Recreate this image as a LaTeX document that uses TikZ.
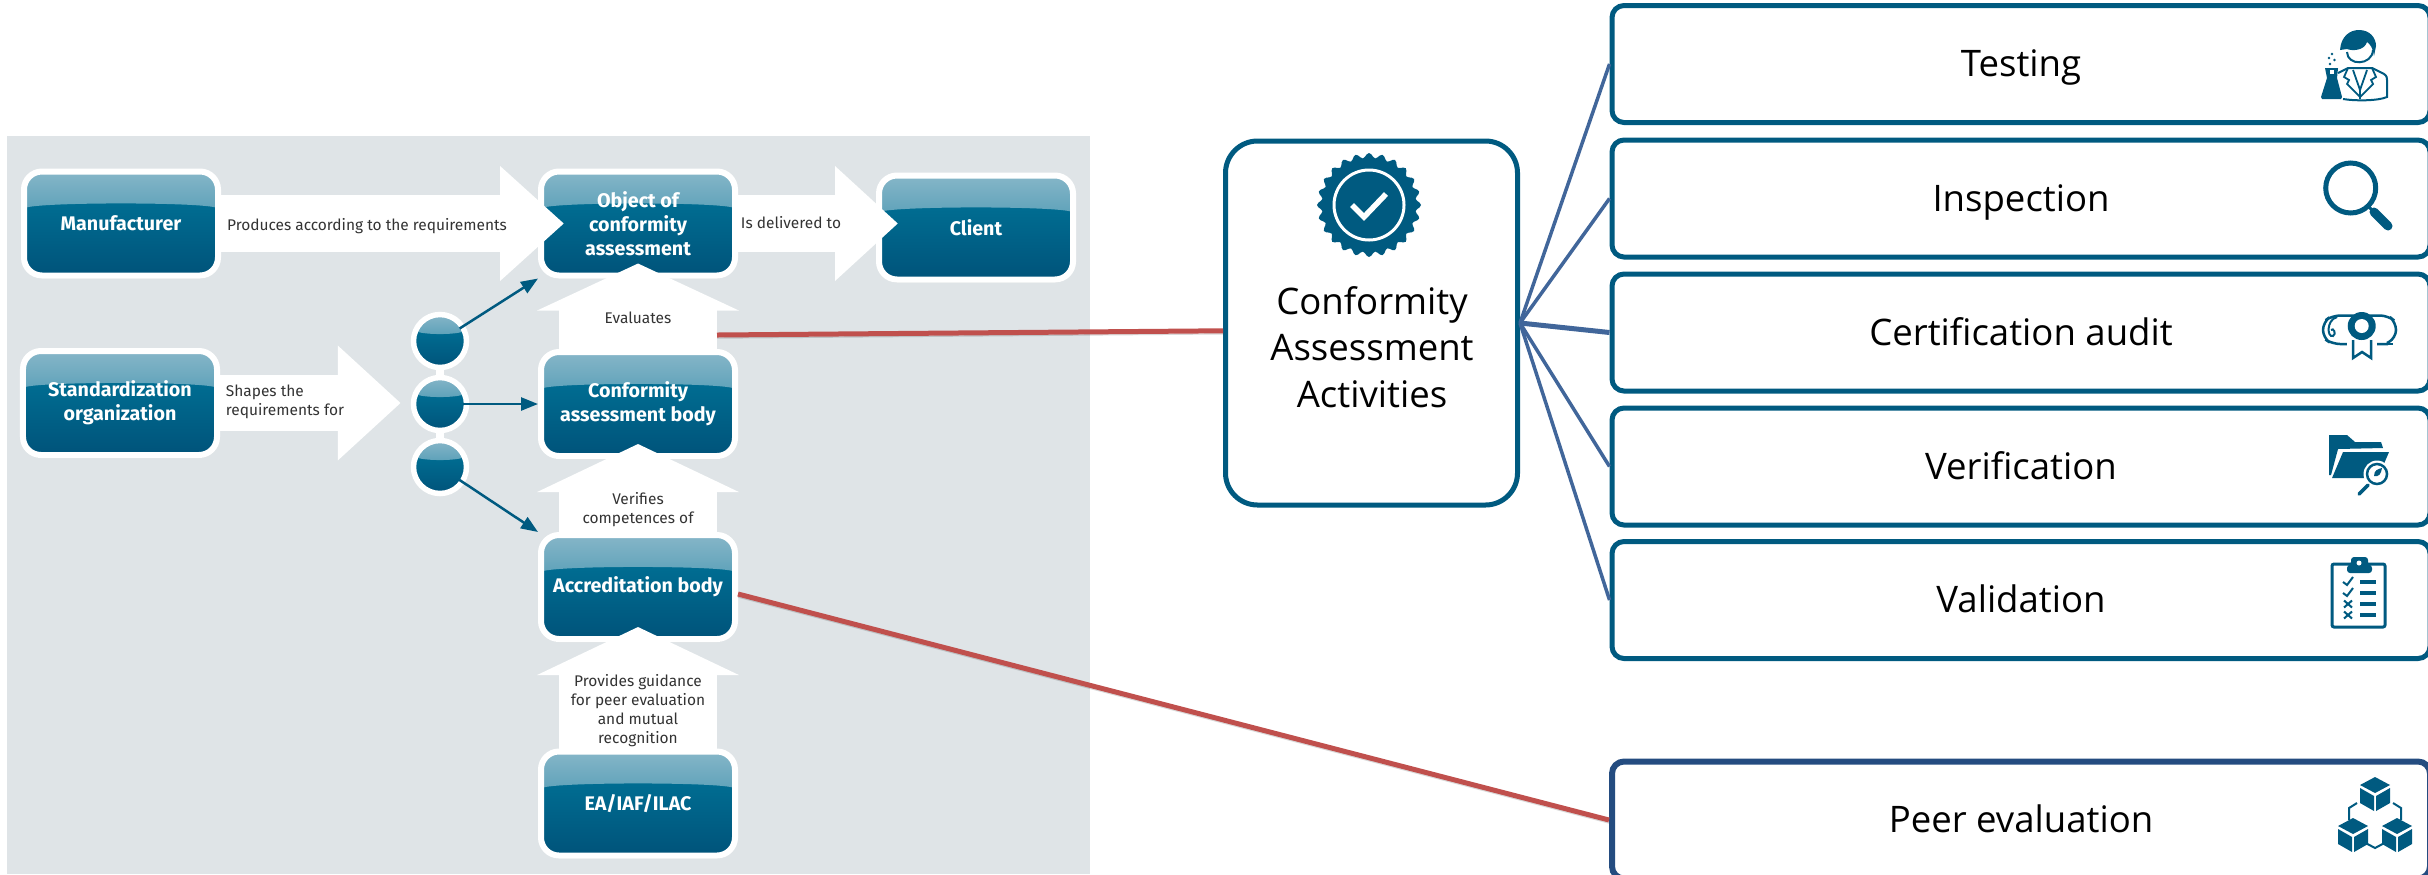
\documentclass[tikz,border=0pt]{standalone}
\usepackage{fontspec}
\setmainfont{Open Sans}
\newfontfamily\dinfont{Fira Sans}
\usetikzlibrary{arrows.meta,calc,shadows}
\definecolor{panelgrey}{HTML}{DFE4E7}
\definecolor{boxmid}{HTML}{00789C}
\definecolor{boxdark}{HTML}{00537A}
\definecolor{glosstop}{HTML}{86B6C8}
\definecolor{glossbot}{HTML}{1C80A1}
\definecolor{iconblue}{HTML}{005A80}
\definecolor{peerblue}{HTML}{244C80}
\definecolor{linkblue}{HTML}{41669A}
\definecolor{redline}{HTML}{C0504D}
\definecolor{labelgrey}{HTML}{333333}
\tikzset{
  gloss/.style 2 args={path picture={
    \shade[top color=glosstop,bottom color=glossbot]
      (path picture bounding box.north west) -- (path picture bounding box.north east)
      -- ($(path picture bounding box.north east)!#1!(path picture bounding box.east)$)
      .. controls ($(path picture bounding box.north east)!#2!(path picture bounding box.east)$)
      and ($(path picture bounding box.north west)!#2!(path picture bounding box.west)$)
      .. ($(path picture bounding box.north west)!#1!(path picture bounding box.west)$) -- cycle;}},
  bluebox/.style={draw=white,line width=0.06cm,rounded corners=0.18cm,minimum width=1.94cm,
    minimum height=1.04cm,inner sep=0pt,align=center,text=white,
    top color=boxmid,middle color=boxmid,bottom color=boxdark,gloss={0.37}{0.58},
    drop shadow={opacity=0.15,shadow xshift=0cm,shadow yshift=-0.03cm},
    font=\dinfont\bfseries\fontsize{5.6}{6.8}\selectfont},
  bluedot/.style={circle,draw=white,line width=0.055cm,minimum size=0.53cm,inner sep=0pt,
    top color=boxmid,middle color=boxmid,bottom color=boxdark,gloss={0.55}{0.8}},
  smalltext/.style={align=center,text=labelgrey,inner sep=0pt,
    font=\dinfont\fontsize{4.4}{5.4}\selectfont},
  whitearrow/.style={draw=white},
  smallarrow/.style={draw=iconblue,line width=0.025cm,shorten <=-0.06cm,
    -{Triangle[length=0.17cm,width=0.13cm]}},
  redlink/.style={draw=redline,line width=0.05cm,
    preaction={draw=black,opacity=0.15,transform canvas={yshift=-0.03cm}}},
  activitybox/.style={draw=iconblue,line width=0.05cm,rounded corners=0.12cm,fill=white,
    minimum width=8.18cm,minimum height=1.17cm,inner sep=0pt,text height=0.35cm,text depth=0.10cm,
    font=\fontsize{10.4}{13}\selectfont},
}

\begin{document}
\begin{tikzpicture}[x=1cm,y=-1cm]
\useasboundingbox (0,0) rectangle (24.28,8.74);

% Grey panel
\fill[panelgrey] (0.07,1.36) rectangle (10.90,8.74);

% Blue boxes
\node[bluebox] (manufacturer) at (1.21,2.235) {Manufacturer};
\node[bluebox] (object) at (6.38,2.235) {Object of\\conformity\\assessment};
\node[bluebox] (client) at (9.76,2.275) {Client};
\node[bluebox] (standard) at (1.20,4.03) {Standardization\\organization};
\node[bluebox] (assessbody) at (6.38,4.04) {Conformity\\assessment body};
\node[bluebox] (accredbody) at (6.38,5.87) {Accreditation body};
\node[bluebox] (eagroup) at (6.38,8.035) {EA/IAF/ILAC};

% Three dots
\node[bluedot] (dot1) at (4.40,3.41) {};
\node[bluedot] (dot2) at (4.40,4.04) {};
\node[bluedot] (dot3) at (4.40,4.67) {};
\draw[white,line width=0.08cm] (dot1) -- (dot2);
\draw[white,line width=0.08cm] (dot2) -- (dot3);

% White block arrows
\draw[whitearrow,line width=0.57cm,shorten >=-0.26cm,-{Triangle[length=0.64cm,width=1.11cm]}] (manufacturer.east) -- (object.west);
\draw[whitearrow,line width=0.57cm,shorten >=-0.22cm,-{Triangle[length=0.63cm,width=1.11cm]}] (object.east) -- (object.east -| client.west);
\draw[whitearrow,line width=0.56cm,shorten >=0.10cm,-{Triangle[length=0.63cm,width=1.11cm]}] (standard.east) -- (standard.east -| dot2.west);
\draw[whitearrow,line width=1.58cm,shorten >=-0.15cm,-{Triangle[length=0.47cm,width=2.00cm]}] (assessbody.north) -- (object.south);
\draw[whitearrow,line width=1.58cm,shorten >=-0.15cm,-{Triangle[length=0.48cm,width=2.00cm]}] (accredbody.north) -- (assessbody.south);
\draw[whitearrow,line width=1.58cm,shorten >=-0.15cm,-{Triangle[length=0.48cm,width=2.00cm]}] (eagroup.north) -- (accredbody.south);

% Arrow labels
\node[smalltext] (produces) at (3.67,2.26) {Produces according to the requirements};
\node[smalltext] (delivered) at (7.91,2.23) {Is delivered to};
\node[smalltext,align=left] (shapes) at (2.85,4.02) {Shapes the\\requirements for};
\node[smalltext] (evaluates) at (6.38,3.18) {Evaluates};
\node[smalltext] (verifies) at (6.38,5.10) {Verifies\\competences of};
\node[smalltext] (guidance) at (6.38,7.11) {Provides guidance\\for peer evaluation\\and mutual\\recognition};

% Small arrows from the dots
\draw[smallarrow] (dot1) -- (object.south west);
\draw[smallarrow] (dot2) -- (assessbody.west);
\draw[smallarrow] (dot3) -- (accredbody.north west);

% Activities box
\node[draw=iconblue,line width=0.05cm,rounded corners=0.32cm,fill=white,minimum width=2.92cm,
  minimum height=3.64cm] (activities) at (13.715,3.23) {};
\node[align=center,inner sep=0pt,font=\fontsize{10.4}{13.3}\selectfont] (actlabel) at (13.72,3.47) {Conformity\\Assessment\\Activities};

% Activity boxes on the right
\node[activitybox] (testing) at (20.21,0.64) {Testing};
\node[activitybox] (inspection) at (20.21,1.985) {Inspection};
\node[activitybox] (certaudit) at (20.21,3.325) {Certification audit};
\node[activitybox] (verification) at (20.21,4.665) {Verification};
\node[activitybox] (validation) at (20.21,6.00) {Validation};
\node[activitybox,draw=peerblue,line width=0.06cm] (peereval) at (20.21,8.20) {Peer evaluation};

% Links to the activities
\draw[linkblue,line width=0.035cm] (activities.east) -- (testing.west);
\draw[linkblue,line width=0.035cm] (activities.east) -- (inspection.west);
\draw[linkblue,line width=0.05cm] (activities.east) -- (certaudit.west);
\draw[linkblue,line width=0.035cm] (activities.east) -- (verification.west);
\draw[linkblue,line width=0.035cm] (activities.east) -- (validation.west);

% Red links
\coordinate (evalside) at (7.17,3.35);
\draw[redlink] (evalside) -- (activities.183.5);
\draw[redlink] (accredbody.-4) -- (peereval.west);

% Badge icon
\fill[iconblue] plot[samples=145,domain=0:360,variable=\t]
  ({13.69+(0.495+0.025*cos(24*\t))*cos(\t)},{2.05+(0.495+0.025*cos(24*\t))*sin(\t)}) -- cycle;
\draw[white,line width=0.03cm] (13.69,2.05) circle (0.35);
\draw[white,line width=0.055cm] (13.52,2.05) -- (13.64,2.17) -- (13.86,1.94);

% Tester icon
\fill[iconblue] (23.40,0.50) .. controls (23.41,0.36) and (23.50,0.30) .. (23.59,0.30)
  .. controls (23.70,0.30) and (23.76,0.38) .. (23.76,0.46) -- (23.74,0.56)
  .. controls (23.73,0.48) and (23.70,0.44) .. (23.67,0.42)
  .. controls (23.64,0.51) and (23.52,0.51) .. (23.47,0.49) -- cycle;
\draw[iconblue,line width=0.02cm] (23.47,0.52) .. controls (23.47,0.66) and (23.72,0.66) .. (23.73,0.50);
\draw[iconblue,line width=0.02cm] (23.38,0.73) -- (23.48,0.68) -- (23.72,0.68) -- (23.84,0.74)
  .. controls (23.87,0.76) and (23.87,0.78) .. (23.87,0.80) -- (23.87,0.97)
  .. controls (23.78,1.01) and (23.55,1.01) .. (23.43,0.99);
\draw[iconblue,line width=0.018cm] (23.48,0.68) -- (23.44,0.77) -- (23.49,0.80) -- (23.47,0.84)
  -- (23.60,0.97) -- (23.73,0.84) -- (23.71,0.80) -- (23.76,0.77) -- (23.72,0.68);
\draw[iconblue,line width=0.018cm] (23.53,0.70) -- (23.60,0.90) -- (23.67,0.70) (23.60,0.90) -- (23.60,0.99);
\fill[iconblue] (23.25,0.68) -- (23.38,0.68) -- (23.37,0.78) -- (23.42,0.97) -- (23.41,0.99)
  -- (23.22,0.99) -- (23.21,0.97) -- (23.27,0.78) -- cycle;
\fill[white] (23.30,0.70) rectangle (23.34,0.74);
\foreach \dx/\dy in {23.30/0.64,23.29/0.58,23.345/0.60,23.32/0.54}
  \fill[iconblue] (\dx,\dy) circle (0.013);

% Magnifier icon
\draw[iconblue,line width=0.05cm] (23.507,1.88) circle (0.25);
\draw[iconblue,line width=0.03cm] (23.68,2.06) -- (23.74,2.12);
\draw[iconblue,line width=0.09cm,line cap=round] (23.74,2.12) -- (23.88,2.26);

% Diploma icon
\draw[iconblue,line width=0.025cm,rounded corners=0.08cm] (23.88,3.44) -- (23.32,3.44) -- (23.23,3.38) -- (23.23,3.22) -- (23.32,3.155) -- (23.88,3.155) -- (23.96,3.22) -- (23.96,3.38) -- (23.87,3.43);
\draw[iconblue,line width=0.02cm] (23.37,3.17) .. controls (23.26,3.20) and (23.27,3.38) .. (23.33,3.36) .. controls (23.37,3.34) and (23.33,3.27) .. (23.31,3.30);
\draw[iconblue,line width=0.025cm] (23.78,3.44) -- (23.93,3.44);
\fill[white] (23.47,3.30) rectangle (23.77,3.60);
\draw[iconblue,line width=0.025cm] (23.53,3.40) -- (23.53,3.58) -- (23.62,3.52) -- (23.71,3.58) -- (23.71,3.40);
\fill[iconblue] (23.617,3.26) circle (0.14);
\fill[white] (23.617,3.26) circle (0.07);

% Folder icon
\fill[iconblue] (23.29,4.35) -- (23.47,4.35) -- (23.55,4.42) -- (23.81,4.42) -- (23.83,4.48) -- (23.38,4.49) -- (23.31,4.75) -- (23.29,4.75) -- cycle;
\fill[iconblue] (23.32,4.78) -- (23.43,4.52) -- (23.89,4.52) -- (23.83,4.66) -- (23.65,4.78) -- cycle;
\fill[white] (23.77,4.74) circle (0.135);
\draw[iconblue,line width=0.025cm] (23.77,4.74) circle (0.10);
\fill[iconblue] (23.74,4.76) .. controls (23.74,4.70) and (23.78,4.69) .. (23.82,4.68) .. controls (23.81,4.74) and (23.79,4.77) .. cycle;
\draw[iconblue,line width=0.035cm,line cap=round] (23.68,4.85) -- (23.59,4.94);

% Clipboard icon
\draw[iconblue,line width=0.03cm,rounded corners=0.02cm] (23.32,5.64) rectangle (23.85,6.27);
\fill[iconblue,rounded corners=0.03cm] (23.47,5.73) -- (23.47,5.65) -- (23.51,5.65) -- (23.51,5.57) -- (23.68,5.57) -- (23.68,5.65) -- (23.72,5.65) -- (23.72,5.73) -- cycle;
\fill[white] (23.59,5.63) circle (0.025);
\foreach \ty in {5.82,5.93} {
  \draw[iconblue,line width=0.02cm] (23.43,\ty) -- (23.47,\ty+0.03) -- (23.53,\ty-0.05);
}
\foreach \ty in {6.04,6.15} {
  \draw[iconblue,line width=0.02cm] (23.44,\ty-0.035) -- (23.52,\ty+0.035) (23.44,\ty+0.035) -- (23.52,\ty-0.035);
}
\foreach \ty in {5.82,5.93,6.04,6.15} {
  \draw[iconblue,line width=0.035cm] (23.60,\ty) -- (23.76,\ty);
}

% Cubes icon
\foreach \cx/\cy in {23.75/7.93,23.53/8.34,23.97/8.34} {
  \begin{scope}[shift={(\cx,\cy)}]
    \fill[iconblue] (0,-0.16) -- (0.15,-0.08) -- (0,0) -- (-0.15,-0.08) -- cycle;
    \fill[iconblue] (-0.15,-0.05) -- (-0.01,0.03) -- (-0.01,0.18) -- (-0.15,0.10) -- cycle;
    \fill[iconblue] (0.15,-0.05) -- (0.01,0.03) -- (0.01,0.18) -- (0.15,0.10) -- cycle;
  \end{scope}
}
\draw[iconblue,line width=0.02cm] (23.57,8.03) -- (23.49,8.08) -- (23.49,8.20);
\draw[iconblue,line width=0.02cm] (23.93,8.03) -- (24.01,8.08) -- (24.01,8.20);
\draw[iconblue,line width=0.02cm] (23.60,8.40) -- (23.75,8.48) -- (23.90,8.40);

\end{tikzpicture}
\end{document}
